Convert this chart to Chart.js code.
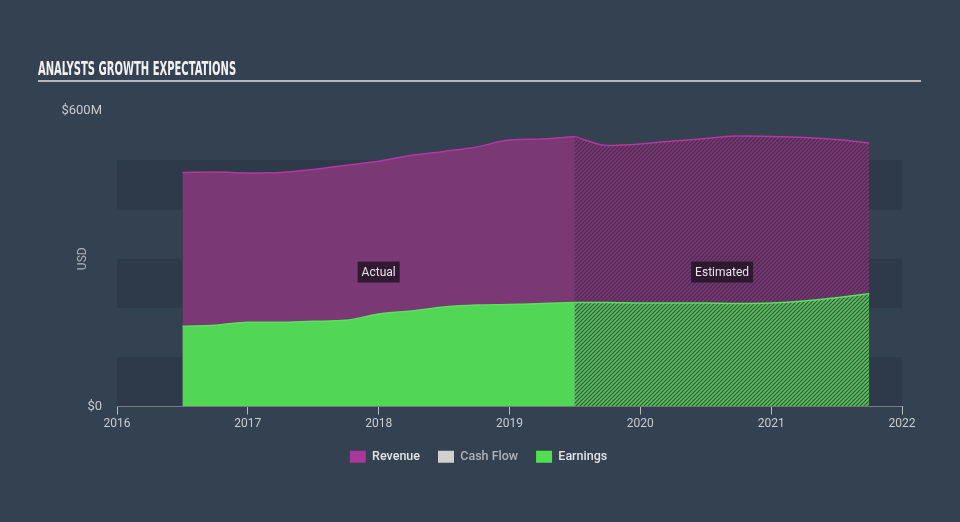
<!DOCTYPE html>
<html>
<head>
<meta charset="utf-8">
<script src="https://cdn.jsdelivr.net/npm/chart.js@4/dist/chart.umd.min.js"></script>
<style>
  html, body { margin: 0; padding: 0; background: #334151; }
  #wrap { position: relative; width: 960px; height: 522px; }
  #title { position: absolute; left: 38px; top: 56px; color: #f2f2f2; font: bold 20px "Liberation Sans Narrow", "DejaVu Sans Condensed", sans-serif;
           white-space: nowrap; transform-origin: 0 0; }
  #rule { position: absolute; left: 38px; top: 80px; width: 883px; height: 2px; background: #b4b9c0; }
</style>
</head>
<body>
<div id="wrap">
  <div id="title">ANALYSTS GROWTH EXPECTATIONS</div>
  <div id="rule"></div>
  <canvas id="c" width="960" height="522"></canvas>
</div>
<script>
// years as decimals, values in $M
var actualYears   = [2016.5, 2016.75, 2017.0, 2017.25, 2017.5, 2017.75, 2018.0, 2018.25, 2018.5, 2018.75, 2019.0, 2019.25, 2019.5];
var revenueActual = [475, 476, 474, 475, 481, 490, 498, 510, 518, 527, 541, 543, 548];
var earningsActual = [163, 165, 171, 171, 173, 175, 188, 194, 202, 206, 207, 209, 211];

var estYears      = [2019.5, 2019.75, 2020.0, 2020.25, 2020.5, 2020.75, 2021.0, 2021.25, 2021.5, 2021.75];
var revenueEst    = [548, 530, 533, 539, 544, 549, 548, 546, 542, 535];
var earningsEst   = [211, 211, 210, 210, 210, 209, 210, 214, 221, 229];

var legendNames = ['Revenue', 'Cash Flow', 'Earnings'];
var legendColors = ['#a8389a', '#d0d0d0', '#4fe04f'];
var yTickValues = [0, 600];

// squeeze the title to the condensed look of the original
var t = document.getElementById('title');
t.style.transform = 'scaleX(' + (198 / t.offsetWidth) + ')';

function pts(xs, ys) { return xs.map(function (x, i) { return { x: x, y: ys[i] }; }); }

function hatch(bg, fg) {
  var c = document.createElement('canvas');
  c.width = 4; c.height = 4;
  var g = c.getContext('2d');
  g.fillStyle = bg; g.fillRect(0, 0, 4, 4);
  g.strokeStyle = fg; g.lineWidth = 1.6;
  g.beginPath();
  g.moveTo(0, 4); g.lineTo(4, 0);
  g.moveTo(-1, 1); g.lineTo(1, -1);
  g.moveTo(3, 5); g.lineTo(5, 3);
  g.stroke();
  return g.createPattern(c, 'repeat');
}

var bands = {
  id: 'bands',
  beforeDatasetsDraw: function (chart) {
    var ctx = chart.ctx, y = chart.scales.y, a = chart.chartArea;
    ctx.save();
    ctx.fillStyle = '#2e3a49';
    [0, 200, 400].forEach(function (v) {
      var top = y.getPixelForValue(v + 100), bot = y.getPixelForValue(v);
      ctx.fillRect(a.left, top, a.right - a.left, bot - top);
    });
    ctx.restore();
  }
};

var tags = {
  id: 'tags',
  afterDatasetsDraw: function (chart) {
    var ctx = chart.ctx, x = chart.scales.x, y = chart.scales.y;
    var items = [
      ['Actual', (actualYears[0] + actualYears[actualYears.length - 1]) / 2],
      ['Estimated', (estYears[0] + estYears[estYears.length - 1]) / 2]
    ];
    ctx.save();
    ctx.font = '12px Roboto';
    ctx.textAlign = 'center';
    ctx.textBaseline = 'middle';
    items.forEach(function (it) {
      var cx = x.getPixelForValue(it[1]), cy = y.getPixelForValue(273);
      var w = ctx.measureText(it[0]).width + 8;
      ctx.fillStyle = 'rgba(38,20,40,0.85)';
      ctx.fillRect(cx - w / 2, cy - 10.5, w, 21);
      ctx.fillStyle = '#e6e6e6';
      ctx.fillText(it[0], cx, cy + 0.5);
    });
    ctx.restore();
  }
};

var line = { pointRadius: 0, borderWidth: 1.5, cubicInterpolationMode: 'monotone', fill: 'origin' };

new Chart(document.getElementById('c'), {
  type: 'line',
  data: {
    datasets: [
      Object.assign({ label: 'Earnings', data: pts(actualYears, earningsActual),
        borderColor: '#5ae25b', backgroundColor: '#52d655' }, line),
      Object.assign({ label: 'Earnings est', data: pts(estYears, earningsEst),
        borderColor: '#5ae25b', backgroundColor: hatch('#3c4f47', '#52c955') }, line),
      Object.assign({ label: 'Revenue', data: pts(actualYears, revenueActual),
        borderColor: '#b2399f', backgroundColor: '#7a3974' }, line),
      Object.assign({ label: 'Revenue est', data: pts(estYears, revenueEst),
        borderColor: '#b2399f', backgroundColor: hatch('#4a2b4f', '#7a3974') }, line)
    ]
  },
  options: {
    responsive: false,
    animation: false,
    layout: { padding: { left: 55, right: 58, top: 111, bottom: 49 } },
    plugins: {
      tooltip: { enabled: false },
      legend: {
        position: 'bottom',
        labels: {
          boxWidth: 16, boxHeight: 12, padding: 18,
          font: { family: 'Roboto', size: 12.5, weight: '500' },
          generateLabels: function () {
            return legendNames.map(function (n, i) {
              return { text: n, fillStyle: legendColors[i], strokeStyle: legendColors[i], lineWidth: 0,
                       fontColor: i === 1 ? '#aeb3b9' : '#e2e4e6', datasetIndex: i };
            });
          }
        }
      }
    },
    scales: {
      x: {
        type: 'linear', min: 2016, max: 2022,
        afterFit: function (s) { s.height = 26; },
        ticks: { stepSize: 1, color: '#c9cdd2', font: { family: 'Roboto', size: 12 }, padding: 2,
                 maxRotation: 0, callback: function (v) { return String(v); } },
        grid: { drawOnChartArea: false, drawTicks: true, tickLength: 8, color: '#b8bec6' },
        border: { display: true, color: '#b8bec6' }
      },
      y: {
        min: 0, max: 600,
        afterFit: function (s) { s.width = 62; },
        afterBuildTicks: function (s) { s.ticks = yTickValues.map(function (v) { return { value: v }; }); },
        ticks: { color: '#c9cdd2', font: { family: 'Roboto', size: 13 }, padding: 15,
                 callback: function (v) { return v === 0 ? '$0' : '$' + v + 'M'; } },
        grid: { display: false, drawTicks: false },
        border: { display: false },
        title: { display: true, text: 'USD', color: '#aeb3b9', font: { family: 'Roboto', size: 12 },
                 padding: { top: 21, bottom: 0 } }
      }
    }
  },
  plugins: [bands, tags]
});
</script>
</body>
</html>
